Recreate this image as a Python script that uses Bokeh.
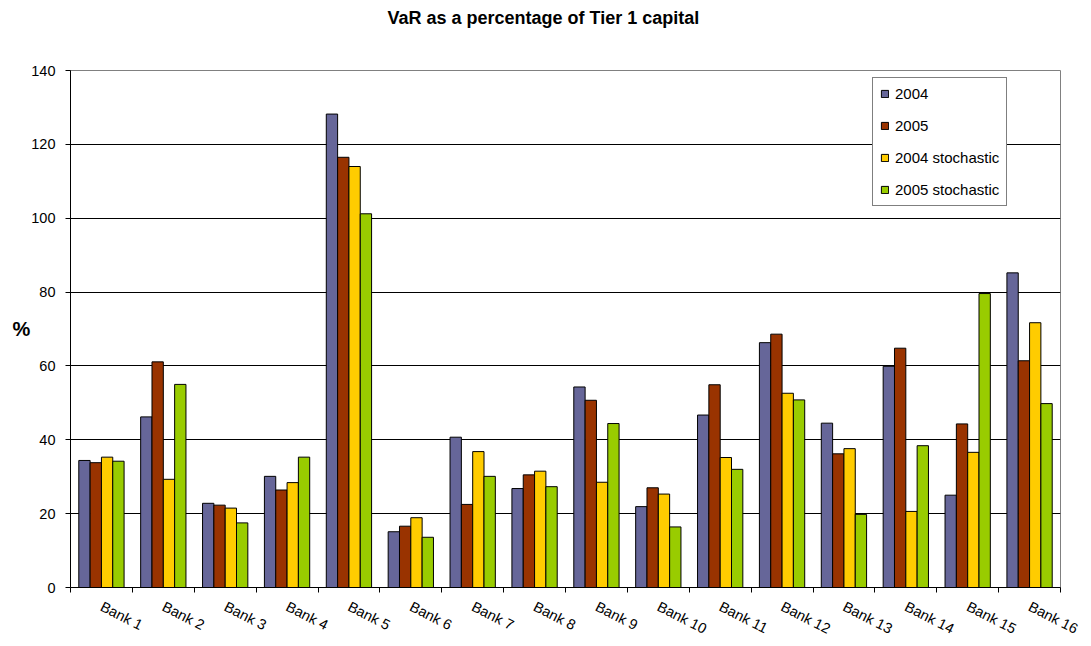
import math
from bokeh.plotting import figure
from bokeh.models import (FixedTicker, Range1d, Legend, LegendItem, Title)
from bokeh.embed import file_html
from bokeh.resources import INLINE

banks = ["Bank 1", "Bank 2", "Bank 3", "Bank 4", "Bank 5", "Bank 6", "Bank 7", "Bank 8",
         "Bank 9", "Bank 10", "Bank 11", "Bank 12", "Bank 13", "Bank 14", "Bank 15", "Bank 16"]

series_names = ["2004", "2005", "2004 stochastic", "2005 stochastic"]

v2004 = [34.4, 46.2, 22.8, 30.1, 128.2, 15.1, 40.7, 26.8, 54.3, 21.9, 46.7, 66.3, 44.5, 59.9, 25.0, 85.2]
v2005 = [33.8, 61.1, 22.3, 26.4, 116.5, 16.6, 22.5, 30.5, 50.7, 27.0, 54.9, 68.6, 36.2, 64.8, 44.3, 61.4]
v2004_stoch = [35.3, 29.3, 21.5, 28.4, 114.0, 18.9, 36.8, 31.5, 28.5, 25.3, 35.2, 52.6, 37.6, 20.6, 36.6, 71.7]
v2005_stoch = [34.2, 55.0, 17.5, 35.3, 101.2, 13.6, 30.1, 27.3, 44.4, 16.4, 32.0, 50.8, 19.8, 38.4, 79.6, 49.8]

y_ticks = [0, 20, 40, 60, 80, 100, 120, 140]
colors = ["#666699", "#993300", "#FFCC00", "#99CC00"]

FONT = "Liberation Sans"

p = figure(width=1091, height=646, output_backend="svg", toolbar_location=None,
           x_range=Range1d(0, 16), y_range=Range1d(0, 140),
           min_border_left=70, min_border_right=31, min_border_top=0, min_border_bottom=58)

# spacer between title and plot area
spacer = Title(text=" ", text_font_size="2px", standoff=34)
p.add_layout(spacer, "above")

p.title.text = "VaR as a percentage of Tier 1 capital"
p.title.align = "left"
p.title.offset = 317
p.title.standoff = 10
p.title.text_font = FONT
p.title.text_font_size = "18px"
p.title.text_font_style = "bold"
p.title.text_color = "black"

bw = 0.183
offsets = [-1.5 * bw, -0.5 * bw, 0.5 * bw, 1.5 * bw]
all_vals = [v2004, v2005, v2004_stoch, v2005_stoch]
renderers = []
for k, vals in enumerate(all_vals):
    xs = [i + 0.5 + offsets[k] for i in range(len(banks))]
    r = p.vbar(x=xs, top=vals, width=bw, bottom=0, fill_color=colors[k],
               line_color="black", line_width=1)
    renderers.append(r)

# axes
p.xgrid.visible = False
p.ygrid.ticker = FixedTicker(ticks=y_ticks[1:-1])
p.ygrid.grid_line_color = "black"
p.ygrid.grid_line_width = 1

p.outline_line_color = "#808080"
p.outline_line_width = 1

xa = p.xaxis[0]
xa.ticker = FixedTicker(ticks=[i + 0.5 for i in range(len(banks))],
                        minor_ticks=list(range(len(banks) + 1)))
xa.major_label_overrides = {i + 0.5: b for i, b in enumerate(banks)}
xa.major_tick_line_color = None
xa.major_tick_out = 0
xa.major_tick_in = 0
xa.minor_tick_line_color = "black"
xa.minor_tick_out = 5
xa.minor_tick_in = 0
xa.major_label_orientation = -0.47
xa.major_label_standoff = 13
xa.major_label_text_font = FONT
xa.major_label_text_font_size = "14.5px"
xa.major_label_text_color = "black"
xa.axis_line_color = "black"

ya = p.yaxis[0]
ya.ticker = FixedTicker(ticks=y_ticks)
ya.major_tick_out = 5
ya.major_tick_in = 0
ya.minor_tick_line_color = None
ya.major_label_standoff = 10
ya.major_label_text_font = FONT
ya.major_label_text_font_size = "14.5px"
ya.major_label_text_color = "black"
ya.axis_line_color = "black"
ya.axis_label = "%"
ya.axis_label_text_font = FONT
ya.axis_label_text_font_size = "20px"
ya.axis_label_text_font_style = "bold"
ya.axis_label_text_color = "black"
ya.axis_label_standoff = -2
if "axis_label_orientation" in ya.properties():
    ya.axis_label_orientation = "horizontal"

legend = Legend(items=[LegendItem(label=n, renderers=[r]) for n, r in zip(series_names, renderers)],
                location=(802, 381), margin=0, padding=7,
                border_line_color="black", border_line_width=1,
                background_fill_color="white", background_fill_alpha=1,
                label_text_font=FONT, label_text_font_size="15px", label_text_color="black",
                glyph_width=9, glyph_height=9, label_height=17, spacing=15, label_standoff=6)
p.add_layout(legend)

p.background_fill_color = "white"
p.border_fill_color = "white"

open("out.html", "w").write(file_html(p, INLINE))
